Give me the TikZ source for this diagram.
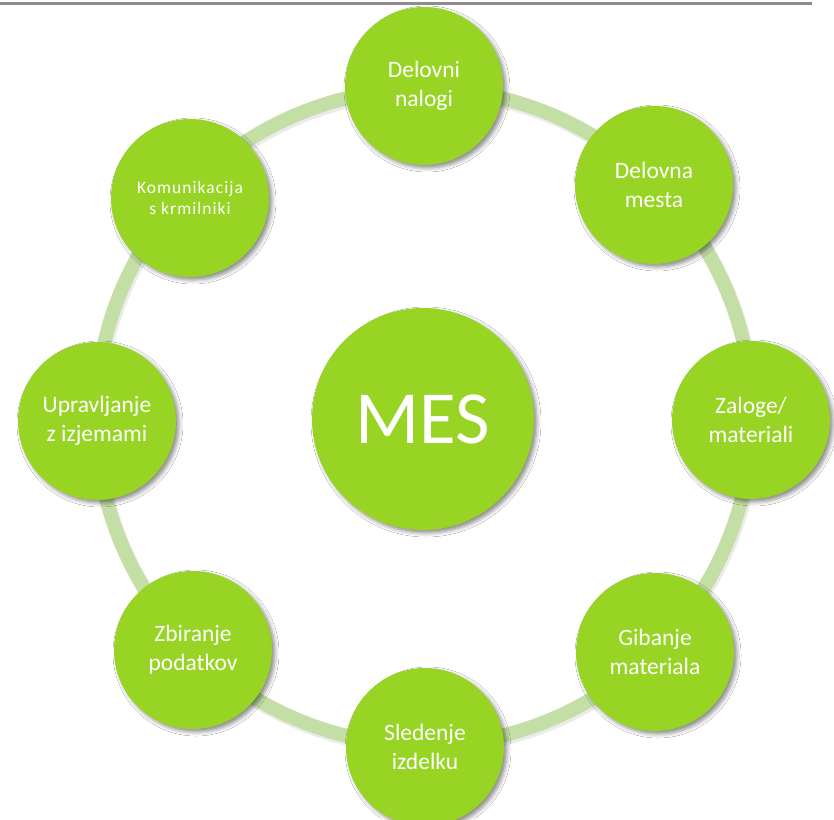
\documentclass[tikz,border=0pt]{standalone}
\usepackage{fontspec}
\setmainfont{Carlito}
\usetikzlibrary{shadows.blur}
\definecolor{nodegreen}{HTML}{97D424}
\definecolor{ringgreen}{HTML}{C3DFA6}
\definecolor{topline}{HTML}{8C8C8C}
\begin{document}
\begin{tikzpicture}[x=1pt,y=-1pt,
  bubble/.style={circle, fill=nodegreen, minimum size=158pt, inner sep=0pt,
    text=white, align=center, font=\fontsize{23.5}{29}\selectfont,
    blur shadow={shadow xshift=3pt, shadow yshift=-3pt, shadow blur radius=4pt, shadow opacity=45}},
  smalltext/.style={font=\fontsize{17.5}{21}\selectfont\addfontfeatures{LetterSpace=6}},
  bigbubble/.style={bubble, minimum size=222pt, font=\fontsize{75}{80}\selectfont}
  ]
\useasboundingbox (0,0) rectangle (834,819);
\fill[white] (0,0) rectangle (834,819);
\draw[topline, line width=3pt] (0,3) -- (812,3);
\coordinate (ring) at (424,417);
\coordinate (ringshadow) at (425.5,419.5);
\draw[black, opacity=0.08, line width=15pt] (ringshadow) circle[radius=328];
\draw[ringgreen, line width=14pt] (ring) circle[radius=328];

\node[bubble] (nalogi) at (424,86) {Delovni\\nalogi};
\node[bubble] (mesta) at (654,185) {Delovna\\mesta};
\node[bubble] (zaloge) at (751,420) {Zaloge/\\materiali};
\node[bubble] (gibanje) at (655,652) {Gibanje\\materiala};
\node[bubble] (sledenje) at (425,747) {Sledenje\\izdelku};
\node[bubble] (zbiranje) at (193,650) {Zbiranje\\podatkov};
\node[bubble] (upravljanje) at (97,421) {Upravljanje\\z izjemami};
\node[bubble, smalltext] (komunikacija) at (190,198) {Komunikacija\\s krmilniki};
\node[bigbubble] (mes) at (423,419) {MES};
\end{tikzpicture}
\end{document}
